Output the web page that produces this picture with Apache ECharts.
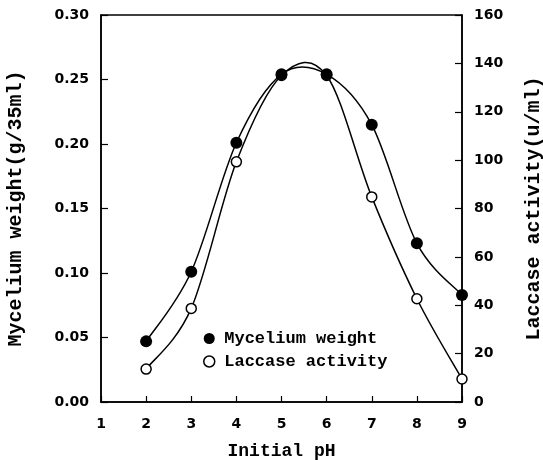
<!DOCTYPE html>
<html>
<head>
<meta charset="utf-8">
<script src="https://cdn.jsdelivr.net/npm/echarts@6/dist/echarts.min.js"></script>
<style>
html,body{margin:0;padding:0;background:#fff;}
#c{width:543px;height:460px;}
</style>
</head>
<body>
<div id="c"></div>
<script>
var pH = [2, 3, 4, 5, 6, 7, 8, 9];
var myceliumWeight = [0.047, 0.101, 0.201, 0.254, 0.254, 0.215, 0.123, 0.083];
var laccaseActivity = [13.6, 38.7, 99.3, 135, 135, 84.8, 42.7, 9.5];
var xTicks = [1, 2, 3, 4, 5, 6, 7, 8, 9];
var leftTicks = [0, 0.05, 0.10, 0.15, 0.20, 0.25, 0.30];
var rightTicks = [0, 20, 40, 60, 80, 100, 120, 140, 160];

function pairs(xs, ys) { return xs.map(function (x, i) { return [x, ys[i]]; }); }

var mono = '"Liberation Mono", "DejaVu Sans Mono", monospace';
var sans = '"DejaVu Sans", sans-serif';

// smooth curve through the data points (Catmull-Rom drawn as cubic Bezier segments in pixel space)
function curveSeries(name, ys, yAxisIndex) {
  return {
    name: name, type: 'custom', coordinateSystem: 'cartesian2d', yAxisIndex: yAxisIndex,
    data: pairs(pH, ys), silent: true, z: 1,
    renderItem: function (params, api) {
      var i = params.dataIndex, n = pH.length;
      if (i >= n - 1) return null;
      var P = function (k) { k = Math.max(0, Math.min(n - 1, k)); return api.coord([pH[k], ys[k]]); };
      var p0 = P(i - 1), p1 = P(i), p2 = P(i + 1), p3 = P(i + 2);
      var t = 1 / 6;
      return {
        type: 'bezierCurve',
        shape: {
          x1: p1[0], y1: p1[1], x2: p2[0], y2: p2[1],
          cpx1: p1[0] + (p2[0] - p0[0]) * t, cpy1: p1[1] + (p2[1] - p0[1]) * t,
          cpx2: p2[0] - (p3[0] - p1[0]) * t, cpy2: p2[1] - (p3[1] - p1[1]) * t
        },
        style: {stroke: '#000', lineWidth: 1.5, fill: 'none'}
      };
    }
  };
}

var chart = echarts.init(document.getElementById('c'), null, {renderer: 'canvas'});
chart.setOption({
  animation: false,
  backgroundColor: '#fff',
  grid: {left: 101, right: 81, top: 15, bottom: 58, containLabel: false, outerBoundsMode: 'none',
    show: true, borderColor: '#000', borderWidth: 1.5, backgroundColor: 'transparent'},
  legend: {
    orient: 'vertical', left: 198, top: 325, itemGap: 6, itemWidth: 20, itemHeight: 11,
    textStyle: {fontFamily: mono, fontWeight: 'bold', fontSize: 17, color: '#000'},
    data: [
      {name: 'Mycelium weight', icon: 'circle', itemStyle: {color: '#000', borderWidth: 0}},
      {name: 'Laccase activity', icon: 'circle', itemStyle: {color: '#fff', borderColor: '#000', borderWidth: 1.5}}
    ]
  },
  xAxis: {
    type: 'value', min: xTicks[0], max: xTicks[xTicks.length - 1], interval: 1,
    name: 'Initial pH', nameLocation: 'middle', nameGap: 40,
    nameTextStyle: {fontFamily: mono, fontWeight: 'bold', fontSize: 18, color: '#000'},
    axisLine: {lineStyle: {color: '#000', width: 1.5}},
    axisTick: {inside: true, length: 6, lineStyle: {color: '#000', width: 1.2}},
    axisLabel: {margin: 15, fontFamily: sans, fontWeight: 'bold', fontSize: 14, color: '#000'},
    splitLine: {show: false}
  },
  yAxis: [
    {
      type: 'value', min: leftTicks[0], max: leftTicks[leftTicks.length - 1], interval: 0.05,
      position: 'left',
      name: 'Mycelium weight(g/35ml)', nameLocation: 'middle', nameGap: 75, nameRotate: 90,
      nameTextStyle: {fontFamily: mono, fontWeight: 'bold', fontSize: 20, color: '#000'},
      axisLine: {show: true, lineStyle: {color: '#000', width: 1.5}},
      axisTick: {show: true, inside: true, length: 7, lineStyle: {color: '#000', width: 1.2}},
      axisLabel: {margin: 12, fontFamily: sans, fontWeight: 'bold', fontSize: 14, color: '#000',
        formatter: function (v) { return v.toFixed(2); }},
      splitLine: {show: false}
    },
    {
      type: 'value', min: rightTicks[0], max: rightTicks[rightTicks.length - 1], interval: 20,
      position: 'right',
      name: 'Laccase activity(u/ml)', nameLocation: 'middle', nameGap: 62, nameRotate: 90,
      nameTextStyle: {fontFamily: mono, fontWeight: 'bold', fontSize: 20, color: '#000'},
      axisLine: {show: true, lineStyle: {color: '#000', width: 1.5}},
      axisTick: {show: true, inside: true, length: 7, lineStyle: {color: '#000', width: 1.2}},
      axisLabel: {margin: 12, fontFamily: sans, fontWeight: 'bold', fontSize: 14, color: '#000'},
      splitLine: {show: false}
    }
  ],
  series: [
    curveSeries('Laccase curve', laccaseActivity, 1),
    curveSeries('Mycelium curve', myceliumWeight, 0),
    {
      name: 'Laccase activity', type: 'scatter', yAxisIndex: 1,
      data: pairs(pH, laccaseActivity),
      symbol: 'circle', symbolSize: 10,
      itemStyle: {color: '#fff', borderColor: '#000', borderWidth: 1.5, opacity: 1},
      z: 2
    },
    {
      name: 'Mycelium weight', type: 'scatter', yAxisIndex: 0,
      data: pairs(pH, myceliumWeight),
      symbol: 'circle', symbolSize: 12,
      itemStyle: {color: '#000', borderWidth: 0, opacity: 1},
      z: 3
    }
  ]
});
</script>
</body>
</html>
